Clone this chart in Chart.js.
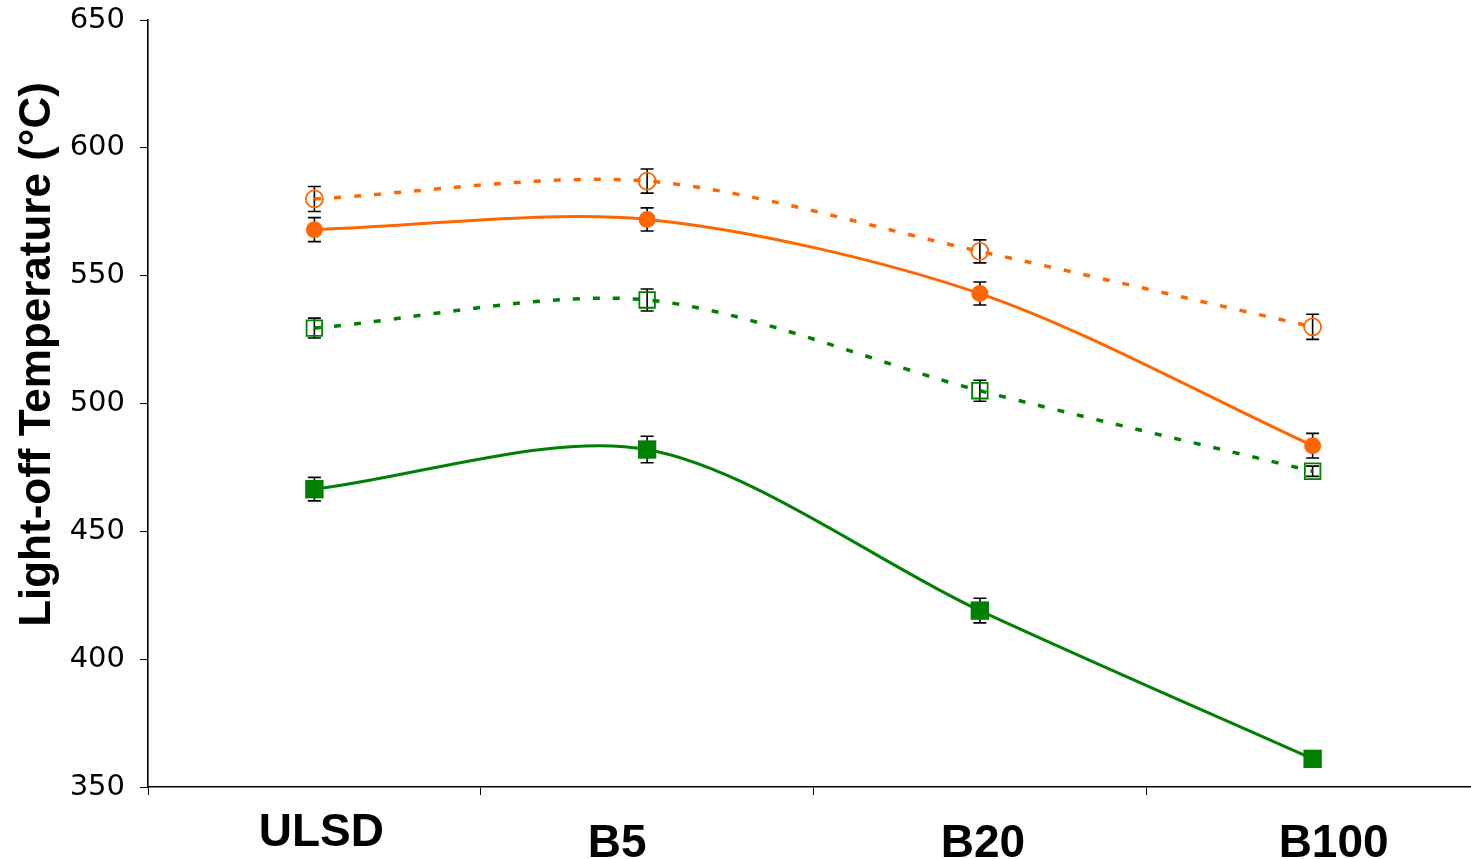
<!DOCTYPE html>
<html>
<head>
<meta charset="utf-8">
<title>Light-off Temperature</title>
<script src="https://cdn.jsdelivr.net/npm/chart.js@4.4.1/dist/chart.umd.min.js"></script>
<style>
  html, body { margin: 0; padding: 0; background: #fff; overflow: hidden; }
  #wrap { width: 1471px; height: 859px; overflow: hidden; }
  canvas { display: block; }
</style>
</head>
<body>
<!-- plot runs a little past the right edge, the wrapper crops it -->
<div id="wrap"><canvas id="lightoff" width="1479" height="859"></canvas></div>
<script>
// Fuel blends along the x axis
const fuels = ['ULSD', 'B5', 'B20', 'B100'];

// Light-off temperatures (°C) and their error half-widths
const orangeOpen = [580, 587, 559.5, 530];
const orangeOpenErr = [4.9, 4.7, 4.5, 4.9];

const orangeFilled = [568, 572, 543, 483.5];
const orangeFilledErr = [4.7, 4.5, 4.5, 4.8];

const greenOpen = [529.5, 540.5, 505, 473.5];
const greenOpenErr = [3.9, 4.3, 4.1, 2];

const greenFilled = [466.5, 482, 419, 361];
const greenFilledErr = [4.6, 5.2, 4.8, 1.5];

const yTicks = [350, 400, 450, 500, 550, 600, 650];

const ORANGE = '#FF6600';
const GREEN = '#008000';

// vertical error bars with caps, drawn under the markers
const errorBars = {
    id: 'errorBars',
    beforeDatasetsDraw(chart) {
        const { ctx, scales: { y } } = chart;
        ctx.save();
        ctx.strokeStyle = '#000';
        ctx.lineWidth = 1.6;
        chart.data.datasets.forEach((ds, di) => {
            const meta = chart.getDatasetMeta(di);
            meta.data.forEach((pt, i) => {
                const e = ds.errors[i];
                const top = y.getPixelForValue(ds.data[i] + e);
                const bot = y.getPixelForValue(ds.data[i] - e);
                ctx.beginPath();
                ctx.moveTo(pt.x, top); ctx.lineTo(pt.x, bot);
                ctx.moveTo(pt.x - 6.5, top); ctx.lineTo(pt.x + 6.5, top);
                ctx.moveTo(pt.x - 6.5, bot); ctx.lineTo(pt.x + 6.5, bot);
                ctx.stroke();
            });
        });
        ctx.restore();
    }
};

// bold category names and the rotated y title
const axisText = {
    id: 'axisText',
    afterDraw(chart, args, opts) {
        const { ctx, scales: { x }, chartArea } = chart;
        ctx.save();
        ctx.fillStyle = '#000';
        ctx.textAlign = 'center';
        ctx.textBaseline = 'alphabetic';
        ctx.font = 'bold 46px "Liberation Sans", Arial, sans-serif';
        fuels.forEach((f, i) => {
            const n = opts.nudge[i];
            ctx.fillText(f, x.getPixelForValue(i) + n[0], chartArea.bottom + n[1]);
        });

        ctx.translate(50, (chartArea.top + chartArea.bottom) / 2 - 49);
        ctx.rotate(-Math.PI / 2);
        ctx.font = 'bold 44px "Liberation Sans", Arial, sans-serif';
        ctx.fillText('Light-off Temperature (°C)', 0, 0);
        ctx.restore();
    }
};

// fixed axis sizes so the plot box sits where it should
const noPad = s => { s.paddingTop = 0; s.paddingBottom = 0; s.paddingLeft = 0; s.paddingRight = 0; };

new Chart(document.getElementById('lightoff'), {
    type: 'line',
    data: {
        labels: fuels,
        datasets: [
            {
                label: 'Series 1',
                data: orangeOpen,
                errors: orangeOpenErr,
                borderColor: ORANGE,
                borderWidth: 3.5,
                borderDash: [7, 13],
                borderCapStyle: 'butt',
                pointStyle: 'circle',
                pointRadius: 8.5,
                pointBorderWidth: 1.8,
                pointBorderColor: ORANGE,
                pointBackgroundColor: 'rgba(0,0,0,0)'
            },
            {
                label: 'Series 2',
                data: orangeFilled,
                errors: orangeFilledErr,
                borderColor: ORANGE,
                borderWidth: 3,
                pointStyle: 'circle',
                pointRadius: 8.5,
                pointBorderWidth: 0,
                pointBackgroundColor: ORANGE
            },
            {
                label: 'Series 3',
                data: greenOpen,
                errors: greenOpenErr,
                borderColor: GREEN,
                borderWidth: 3.5,
                borderDash: [7, 13],
                borderCapStyle: 'butt',
                pointStyle: 'rect',
                pointRadius: 11,
                pointBorderWidth: 1.8,
                pointBorderColor: GREEN,
                pointBackgroundColor: 'rgba(0,0,0,0)'
            },
            {
                label: 'Series 4',
                data: greenFilled,
                errors: greenFilledErr,
                borderColor: GREEN,
                borderWidth: 3,
                pointStyle: 'rect',
                pointRadius: 13,
                pointBorderWidth: 0,
                pointBackgroundColor: GREEN
            }
        ]
    },
    options: {
        responsive: false,
        animation: false,
        devicePixelRatio: 1,
        layout: { autoPadding: false, padding: { top: 20, right: 0, left: 0, bottom: 0 } },
        elements: { line: { tension: 0.3 } },
        plugins: {
            legend: { display: false },
            tooltip: { enabled: false },
            axisText: { nudge: [[7, 59], [-30, 70], [3, 70], [21, 70]] }
        },
        scales: {
            x: {
                offset: true,
                grid: {
                    offset: true,
                    drawOnChartArea: false,
                    drawTicks: true,
                    tickLength: 8,
                    color: '#000',
                    lineWidth: 1
                },
                border: { display: true, color: '#000', width: 1.6 },
                ticks: { display: false },
                afterFit: s => { s.height = 72; noPad(s); }
            },
            y: {
                min: 350,
                max: 650,
                afterBuildTicks: s => { s.ticks = yTicks.map(v => ({ value: v })); },
                grid: {
                    drawOnChartArea: false,
                    drawTicks: true,
                    tickLength: 8,
                    color: '#000',
                    lineWidth: 1
                },
                border: { display: true, color: '#000', width: 1.6 },
                ticks: {
                    color: '#000',
                    padding: 15,
                    font: { family: '"DejaVu Sans", Verdana, sans-serif', size: 29 }
                },
                afterFit: s => { s.width = 148; noPad(s); }
            }
        }
    },
    plugins: [errorBars, axisText]
});
</script>
</body>
</html>
